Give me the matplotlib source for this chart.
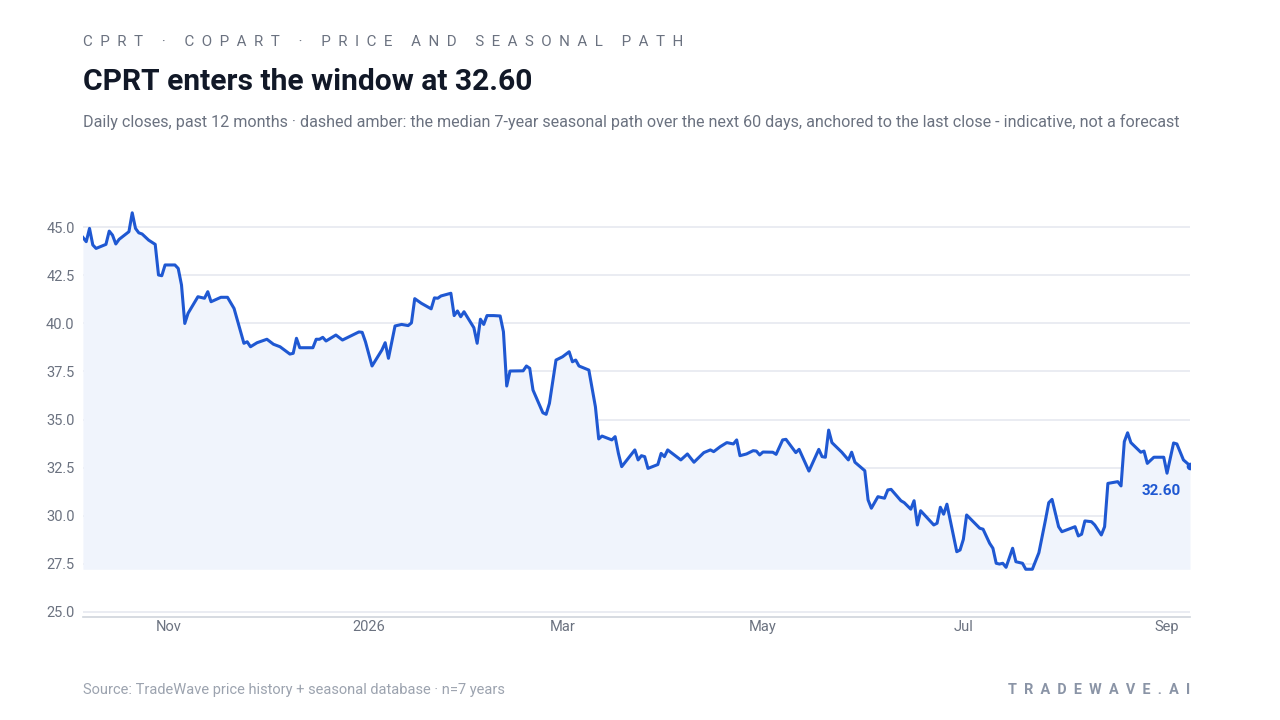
import matplotlib
matplotlib.use("Agg")
import matplotlib.pyplot as plt
import matplotlib.dates as mdates
import pandas as pd
import numpy as np

plt.rcParams['font.family'] = ['Roboto', 'DejaVu Sans']

# ---- data ----
start_date = "2025-10-06"
day_offsets = [0, 1, 2, 3, 4, 7, 8, 9, 10, 11, 14, 15, 16, 17, 18, 20, 22, 23, 24, 25,
               28, 29, 30, 31, 32, 35, 37, 38, 39, 42, 44, 46, 49, 50, 51, 53, 56, 58, 60, 63,
               64, 65, 66, 70, 71, 72, 73, 74, 77, 79, 81, 84, 85, 86, 88, 91, 92, 93, 95, 97,
               99, 100, 101, 103, 106, 107, 108, 109, 112, 113, 114, 115, 116, 119, 120, 121, 122, 123, 125, 127,
               128, 129, 130, 134, 135, 136, 137, 140, 141, 142, 144, 146, 148, 149, 150, 151, 154, 156, 157, 158,
               161, 162, 163, 164, 168, 169, 170, 171, 172, 175, 176, 177, 178, 182, 184, 186, 189, 191, 192, 194,
               196, 198, 199, 200, 202, 204, 205, 206, 207, 210, 211, 213, 214, 217, 218, 221, 224, 225, 226, 227,
               228, 231, 233, 234, 235, 238, 239, 240, 242, 244, 245, 246, 249, 250, 252, 253, 254, 255, 259, 260,
               261, 262, 263, 266, 267, 268, 269, 273, 274, 276, 277, 278, 279, 280, 281, 283, 284, 286, 287, 289,
               291, 293, 294, 295, 297, 298, 302, 303, 304, 305, 307, 308, 310, 311, 312, 315, 316, 317, 318, 319,
               322, 323, 324, 326, 329, 330, 332, 333, 335, 337]
closes = [44.46, 44.24, 44.93, 44.07, 43.89, 44.10, 44.79, 44.58, 44.12, 44.36, 44.76, 45.74, 44.93, 44.70, 44.64, 44.32, 44.10, 42.51, 42.47, 43.03,
          43.03, 42.85, 41.99, 39.99, 40.52, 41.38, 41.30, 41.64, 41.12, 41.35, 41.35, 40.77, 38.96, 39.04, 38.78, 38.99, 39.17, 38.91, 38.78, 38.40,
          38.44, 39.22, 38.73, 38.73, 39.17, 39.17, 39.27, 39.08, 39.39, 39.13, 39.30, 39.55, 39.53, 39.04, 37.78, 38.61, 38.99, 38.18, 39.86, 39.94,
          39.88, 40.02, 41.28, 41.04, 40.75, 41.32, 41.30, 41.42, 41.56, 40.40, 40.64, 40.34, 40.60, 39.77, 38.96, 40.21, 39.94, 40.40, 40.40, 40.38,
          39.56, 36.74, 37.52, 37.53, 37.78, 37.66, 36.53, 35.35, 35.27, 35.84, 38.09, 38.26, 38.52, 38.00, 38.09, 37.78, 37.57, 35.66, 33.99, 34.14,
          33.94, 34.11, 33.24, 32.55, 33.42, 32.90, 33.12, 33.07, 32.46, 32.66, 33.24, 33.07, 33.42, 32.90, 33.21, 32.78, 33.28, 33.42, 33.33, 33.59,
          33.80, 33.73, 33.94, 33.12, 33.21, 33.38, 33.36, 33.16, 33.31, 33.30, 33.19, 33.94, 33.97, 33.28, 33.45, 32.32, 33.45, 33.07, 33.04, 34.45,
          33.80, 33.30, 32.90, 33.30, 32.78, 32.34, 30.82, 30.39, 30.99, 30.91, 31.34, 31.37, 30.78, 30.68, 30.34, 30.78, 29.52, 30.26, 29.52, 29.61,
          30.44, 30.08, 30.60, 28.13, 28.22, 28.77, 30.04, 29.35, 29.30, 28.57, 28.31, 27.53, 27.49, 27.53, 27.32, 28.31, 27.61, 27.53, 27.22, 27.22,
          28.08, 29.78, 30.68, 30.85, 29.43, 29.17, 29.43, 28.95, 29.04, 29.73, 29.69, 29.52, 29.00, 29.43, 31.68, 31.77, 31.55, 33.85, 34.31, 33.80,
          33.30, 33.36, 32.72, 33.04, 33.04, 32.21, 33.78, 33.73, 32.90, 32.60]
y_ticks = [25.0, 27.5, 30.0, 32.5, 35.0, 37.5, 40.0, 42.5, 45.0]
x_tick_dates = ["2025-11-01", "2026-01-01", "2026-03-01", "2026-05-01", "2026-07-01", "2026-09-01"]
x_tick_labels = ["Nov", "2026", "Mar", "May", "Jul", "Sep"]
last_close = 32.60

dates = pd.Timestamp(start_date) + pd.to_timedelta(day_offsets, unit="D")
values = np.array(closes)

# ---- style ----
BLUE = "#1f58d2"
FILL = "#f0f4fc"
GRID = "#e6e9f0"
TXT = "#6b7280"

fig = plt.figure(figsize=(12.8, 7.2), dpi=100)
ax = fig.add_axes([0.0648, 0.1431, 0.9297 - 0.0648, 0.7194 - 0.1431])

ax.fill_between(dates, values, values.min(), color=FILL, linewidth=0, zorder=1)
ax.plot(dates, values, color=BLUE, linewidth=2.2, solid_joinstyle="round", zorder=3)
ax.plot([dates[-1]], [values[-1]], 'o', color=BLUE, markersize=4.5, zorder=4)
ax.annotate(f"{last_close:.2f}", xy=(dates[-1], values[-1]), xytext=(-6.5, -18),
            textcoords="offset points", ha="right", va="center",
            fontsize=11, fontweight="bold", color=BLUE, zorder=5)

ax.set_xlim(dates[0], dates[-1])
ax.set_ylim(24.74, 46.3)
ax.set_yticks(y_ticks)
ax.set_yticklabels([f"{v:.1f}" for v in y_ticks])
ax.set_xticks(pd.to_datetime(x_tick_dates))
ax.set_xticklabels(x_tick_labels)
ax.grid(axis="y", color=GRID, linewidth=1.2, zorder=0)
ax.set_axisbelow(True)
for s in ["top", "right", "left"]:
    ax.spines[s].set_visible(False)
ax.spines["bottom"].set_color("#cfd4dc")
ax.spines["bottom"].set_linewidth(1.2)
ax.tick_params(axis="both", length=0, colors=TXT, labelsize=10.5)
ax.tick_params(axis="y", pad=6)
ax.tick_params(axis="x", pad=2)

# ---- texts ----
kicker = "CPRT · COPART · PRICE AND SEASONAL PATH"
fig.text(83 / 1280, 1 - 42 / 720, "  ".join(kicker), fontsize=10.9, color=TXT,
         ha="left", va="center")
fig.text(83 / 1280, 1 - 82 / 720, "CPRT enters the window at 32.60", fontsize=21.6,
         fontweight="bold", color="#111827", ha="left", va="center")
fig.text(83 / 1280, 1 - 122 / 720,
         "Daily closes, past 12 months · dashed amber: the median 7-year seasonal path over the next 60 days, "
         "anchored to the last close - indicative, not a forecast",
         fontsize=11.6, color=TXT, ha="left", va="center")
fig.text(83 / 1280, 1 - 690 / 720, "Source: TradeWave price history + seasonal database · n=7 years",
         fontsize=10.5, color="#9ca3af", ha="left", va="center")
fig.text(1190 / 1280, 1 - 690 / 720, "  ".join("TRADEWAVE.AI"), fontsize=10.4,
         fontweight="bold", color="#8a94a6", ha="right", va="center")

fig.savefig("out.png", dpi=100, facecolor="white")
